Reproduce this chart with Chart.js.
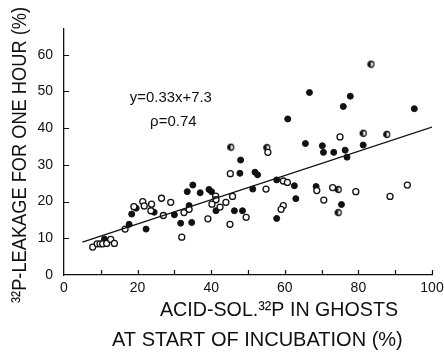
<!DOCTYPE html>
<html>
<head>
<meta charset="utf-8">
<script src="https://cdn.jsdelivr.net/npm/chart.js@4.4.0/dist/chart.umd.min.js"></script>
<style>
  html, body { margin: 0; padding: 0; background: #fff; }
  #wrap { width: 444px; height: 355px; }
</style>
</head>
<body>
<div id="wrap"><canvas id="leakChart" width="444" height="355"></canvas></div>
<script>
// filled circles
var filledX = [11.0, 17.7, 18.4, 19.6, 22.3, 24.5, 30.0, 31.7, 33.5, 34.0, 35.0, 37.0, 39.4, 40.1, 41.3, 34.7,
  48.0, 47.8, 51.9, 52.6, 46.3, 48.5, 51.3, 57.8, 62.6, 63.0, 57.8, 66.7, 60.8, 65.6, 77.8, 75.9, 95.2,
  70.2, 70.5, 73.3, 76.4, 76.9, 81.3, 75.4, 68.5];
var filledY = [9.8, 13.8, 16.6, 18.2, 12.5, 17.1, 16.4, 14.1, 22.7, 18.9, 24.5, 22.4, 23.3, 22.7, 17.5, 14.3,
  31.3, 27.7, 28.0, 27.3, 17.5, 17.5, 23.4, 25.9, 24.3, 20.8, 15.4, 49.7, 42.5, 35.8, 48.7, 45.9, 45.3,
  35.2, 33.4, 33.4, 34.0, 32.1, 35.4, 19.2, 24.1];

// open circles
var openX = [7.8, 9.0, 9.8, 10.5, 11.6, 12.7, 13.7, 16.6, 19.0, 21.4, 21.8, 23.8, 23.6, 26.5, 27.0, 29.0,
  32.6, 34.0, 32.0, 41.2, 41.3, 40.2, 44.0, 45.8, 42.4, 49.5, 39.1, 45.1, 45.2, 55.4, 54.9, 59.6, 60.7,
  59.6, 59.0, 75.0, 68.7, 73.0, 79.3, 70.6, 88.6, 93.3];
var openY = [7.6, 8.5, 8.5, 8.5, 8.6, 9.7, 8.6, 12.5, 18.6, 20.0, 18.8, 19.3, 17.5, 20.9, 16.2, 19.8,
  17.0, 17.9, 10.3, 21.5, 20.5, 19.3, 19.8, 21.4, 18.5, 15.7, 15.3, 13.8, 27.6, 33.4, 23.4, 25.6, 25.2,
  18.9, 17.9, 37.6, 23.0, 23.8, 22.7, 20.4, 21.4, 24.5];

// half-filled circles
var halfX = [83.4, 45.3, 55.1, 81.3, 87.7, 74.5, 74.5];
var halfY = [57.4, 34.8, 34.7, 38.6, 38.3, 17.0, 23.3];

// regression line y = 0.33x + 7.3 (end points)
var lineX = [5, 100];
var lineY = [8.95, 40.3];

var xTicks = [0, 20, 40, 60, 80, 100];
var yTicks = [0, 10, 20, 30, 40, 50, 60];

var eqText = 'y=0.33x+7.3';
var rhoText = '\u03c1=0.74';
var yTitle = '\u00b3\u00b2P-LEAKAGE FOR ONE HOUR (%)';
var xTitle1 = 'ACID-SOL.\u00b3\u00b2P IN GHOSTS';
var xTitle2 = 'AT START OF INCUBATION (%)';

var ink = '#111';
var fontFam = '"Liberation Sans", Arial, sans-serif';
Chart.defaults.font.family = fontFam;
Chart.defaults.color = ink;

function pairs(xs, ys) {
  return xs.map(function (x, i) { return { x: x, y: ys[i] }; });
}

// half filled marker
var halfDot = document.createElement('canvas');
halfDot.width = 9; halfDot.height = 9;
(function () {
  var c = halfDot.getContext('2d');
  c.fillStyle = '#fff';
  c.beginPath(); c.arc(4.5, 4.5, 3, 0, Math.PI * 2); c.fill();
  c.fillStyle = ink;
  c.beginPath(); c.arc(4.5, 4.5, 3, Math.PI * 0.5, Math.PI * 1.5); c.fill();
  c.strokeStyle = ink; c.lineWidth = 1.3;
  c.beginPath(); c.arc(4.5, 4.5, 3, 0, Math.PI * 2); c.stroke();
})();

var decorPlugin = {
  id: 'decor',
  afterDatasetsDraw: function (chart) {
    var ctx = chart.ctx, xs = chart.scales.x, ys = chart.scales.y, a = chart.chartArea;
    ctx.save();
    // inward tick marks
    ctx.strokeStyle = ink; ctx.lineWidth = 1.2;
    ctx.beginPath();
    for (var v = 10; v <= 100; v += 10) {
      var px = Math.round(xs.getPixelForValue(v)) + 0.5;
      ctx.moveTo(px, a.bottom); ctx.lineTo(px, a.bottom - 5);
    }
    for (var w = 10; w <= 60; w += 10) {
      var py = Math.round(ys.getPixelForValue(w)) + 0.5;
      ctx.moveTo(a.left, py); ctx.lineTo(a.left + 5, py);
    }
    ctx.stroke();

    // equation + correlation
    ctx.fillStyle = ink;
    ctx.textBaseline = 'alphabetic';
    ctx.textAlign = 'left';
    ctx.font = '15px ' + fontFam;
    ctx.fillText(eqText, xs.getPixelForValue(17.9), ys.getPixelForValue(47.1), 82);
    ctx.fillText(rhoText, xs.getPixelForValue(23.4), ys.getPixelForValue(40.7), 51);

    // x title, two lines
    ctx.font = '20px ' + fontFam;
    ctx.fillText(xTitle1, 160, 316, 238);
    ctx.fillText(xTitle2, 112, 346, 296);

    // y title, rotated
    ctx.translate(26, 303);
    ctx.rotate(-Math.PI / 2);
    ctx.fillText(yTitle, 0, 0, 296);
    ctx.restore();
  }
};

var ctx = document.getElementById('leakChart');
new Chart(ctx, {
  type: 'scatter',
  data: {
    datasets: [
      {
        type: 'line',
        data: pairs(lineX, lineY),
        borderColor: ink,
        borderWidth: 1.3,
        pointRadius: 0,
        fill: false
      },
      {
        data: pairs(openX, openY),
        pointStyle: 'circle',
        pointRadius: 3,
        backgroundColor: '#fff',
        borderColor: ink,
        borderWidth: 1.3
      },
      {
        data: pairs(filledX, filledY),
        pointStyle: 'circle',
        pointRadius: 3,
        backgroundColor: ink,
        borderColor: ink,
        borderWidth: 1
      },
      {
        data: pairs(halfX, halfY),
        pointStyle: halfDot,
        pointRadius: 4
      }
    ]
  },
  options: {
    responsive: false,
    animation: false,
    devicePixelRatio: 1,
    layout: { padding: { top: 29, right: 12, left: 0, bottom: 0 } },
    plugins: {
      legend: { display: false },
      tooltip: { enabled: false }
    },
    scales: {
      x: {
        type: 'linear',
        min: 0,
        max: 100,
        afterBuildTicks: function (scale) {
          scale.ticks = xTicks.map(function (v) { return { value: v }; });
        },
        afterFit: function (scale) {
          scale.height = 80;
          scale.paddingLeft = 0;
          scale.paddingRight = 0;
        },
        ticks: { font: { size: 14 }, color: ink, padding: 5, maxRotation: 0 },
        grid: { display: false, drawTicks: false },
        border: { display: true, color: ink, width: 1.3 }
      },
      y: {
        type: 'linear',
        min: 0,
        max: 67,
        afterBuildTicks: function (scale) {
          scale.ticks = yTicks.map(function (v) { return { value: v }; });
        },
        afterFit: function (scale) {
          scale.width = 64;
          scale.paddingTop = 0;
          scale.paddingBottom = 0;
        },
        ticks: { font: { size: 14 }, color: ink, padding: 11 },
        grid: { display: false, drawTicks: false },
        border: { display: true, color: ink, width: 1.3 }
      }
    }
  },
  plugins: [decorPlugin]
});
</script>
</body>
</html>
